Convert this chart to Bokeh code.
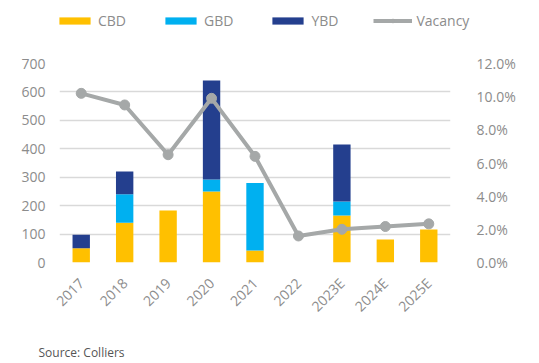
import math
from bokeh.plotting import figure
from bokeh.layouts import column
from bokeh.models import (ColumnDataSource, FactorRange, Range1d, LinearAxis, Legend, LegendItem,
                          NumeralTickFormatter, FixedTicker, Label)
from bokeh.embed import file_html
from bokeh.resources import INLINE

years = ["2017", "2018", "2019", "2020", "2021", "2022", "2023E", "2024E", "2025E"]
cbd = [50, 140, 183, 250, 42, 0, 165, 81, 116]
gbd = [0, 100, 0, 42, 238, 0, 50, 0, 0]
ybd = [48, 80, 0, 348, 0, 0, 200, 0, 0]
vacancy = [0.102, 0.095, 0.065, 0.099, 0.064, 0.016, 0.020, 0.0217, 0.0233]
left_ticks = [0, 100, 200, 300, 400, 500, 600, 700]
right_ticks = [0, 0.02, 0.04, 0.06, 0.08, 0.10, 0.12]
series = ["CBD", "GBD", "YBD"]
colors = ["#FFC000", "#00B0F0", "#243F8E"]
line_color = "#A5A8A8"

FONT = "Open Sans"
TXT = "#8C8C8C"
W = 539
LEG_H, MAIN_H, FOOT_H = 40, 293, 30

# ---------------- main chart ----------------
src = ColumnDataSource(dict(years=years, CBD=cbd, GBD=gbd, YBD=ybd, vac=vacancy))

p = figure(x_range=FactorRange(*years), y_range=Range1d(0, 700), width=W, height=MAIN_H,
           output_backend="svg", toolbar_location=None, frame_align=False,
           min_border_left=59, min_border_right=89, min_border_top=23, min_border_bottom=71)
p.outline_line_color = None

bars = p.vbar_stack(series, x="years", width=0.4, source=src, color=colors, line_color=None)

p.extra_y_ranges = {"vac": Range1d(0, 0.12)}
p.line("years", "vac", source=src, y_range_name="vac", line_color=line_color, line_width=4)
p.scatter("years", "vac", source=src, y_range_name="vac", size=10, color=line_color)

ax_r = LinearAxis(y_range_name="vac", ticker=FixedTicker(ticks=right_ticks),
                  formatter=NumeralTickFormatter(format="0.0%"))
p.add_layout(ax_r, "right")

p.yaxis[0].ticker = FixedTicker(ticks=left_ticks)
for ax in p.yaxis + p.xaxis:
    ax.axis_line_color = None
    ax.major_tick_line_color = None
    ax.minor_tick_line_color = None
    ax.major_tick_out = 0
    ax.major_tick_in = 0
    ax.minor_tick_out = 0
    ax.major_label_text_font = FONT
    ax.major_label_text_font_size = "14px"
    ax.major_label_text_color = TXT
p.yaxis[0].major_label_standoff = 14
ax_r.major_label_standoff = 26
p.xaxis.major_label_orientation = math.pi / 4
p.xaxis.major_label_standoff = 18

p.xgrid.grid_line_color = None
p.ygrid.grid_line_color = "#D9D9D9"
p.ygrid.grid_line_width = 1.5
p.ygrid.ticker = FixedTicker(ticks=left_ticks)

# ---------------- legend strip ----------------
lg = figure(width=W, height=LEG_H, x_range=Range1d(0, 1), y_range=Range1d(0, 1),
            output_backend="svg", toolbar_location=None, min_border=0, frame_align=False,
            x_axis_location=None, y_axis_location=None)
lg.outline_line_color = None
lg.grid.visible = False
nan = float("nan")
dummy = ColumnDataSource(dict(x=[nan], top=[nan]))
leg_bars = [lg.vbar(x="x", top="top", width=0.1, source=dummy, color=c, line_color=None) for c in colors]
leg_line = lg.line(x="x", y="top", source=dummy, line_color=line_color, line_width=4)
leg_dot = lg.scatter(x="x", y="top", source=dummy, size=10, color=line_color)
legend = Legend(items=[LegendItem(label=s, renderers=[r]) for s, r in zip(series, leg_bars)]
                      + [LegendItem(label="Vacancy", renderers=[leg_line, leg_dot])],
                orientation="horizontal", location=(55, 10), glyph_width=39, glyph_height=9,
                label_text_font=FONT, label_text_font_size="14px", label_text_color=TXT,
                spacing=35, label_standoff=4, border_line_color=None, background_fill_alpha=0,
                padding=0, margin=0)
lg.add_layout(legend, "center")

# ---------------- source footer ----------------
ft = figure(width=W, height=FOOT_H, x_range=Range1d(0, 1), y_range=Range1d(0, 1),
            output_backend="svg", toolbar_location=None, min_border=0, frame_align=False,
            x_axis_location=None, y_axis_location=None)
ft.outline_line_color = None
ft.grid.visible = False
ft.add_layout(Label(x=38, y=11, x_units="screen", y_units="screen", text="Source: Colliers",
                    text_font=FONT, text_font_size="12px", text_color="#555555",
                    text_baseline="middle"))

layout = column(lg, p, ft, spacing=0)
open("out.html", "w").write(file_html(layout, INLINE))
